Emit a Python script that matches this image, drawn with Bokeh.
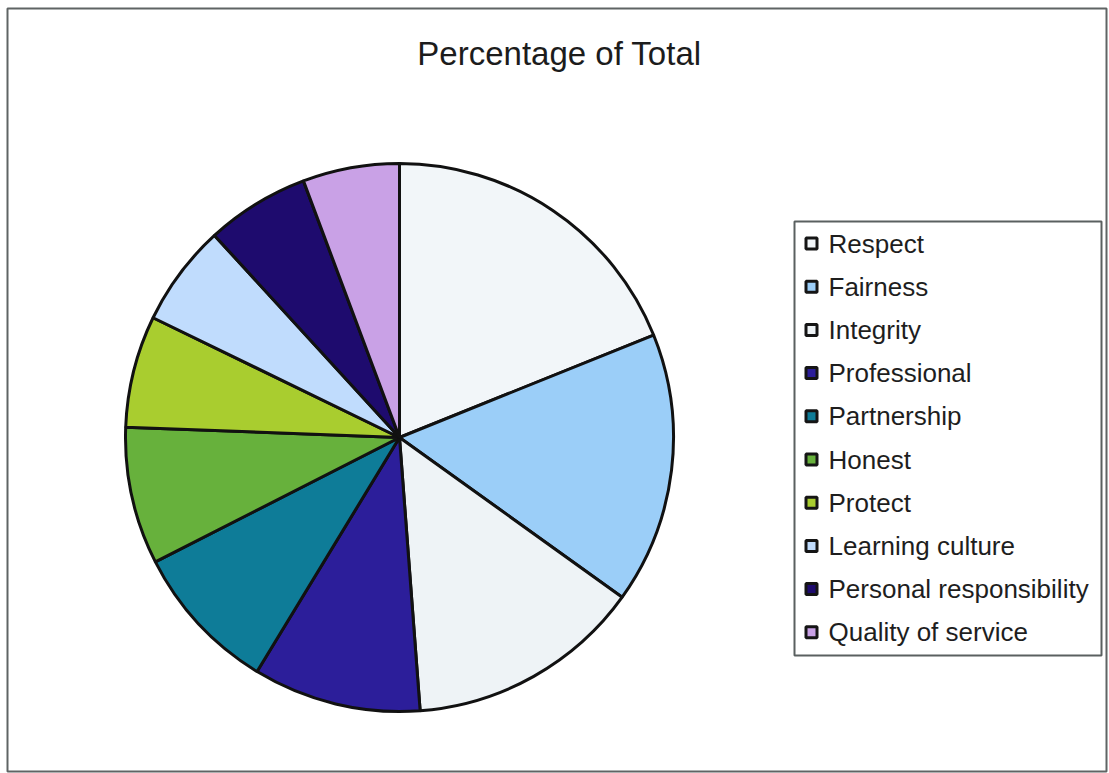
import math
from bokeh.plotting import figure
from bokeh.models import ColumnDataSource, Range1d
from bokeh.core.properties import value
from bokeh.embed import file_html
from bokeh.resources import INLINE

categories = ["Respect", "Fairness", "Integrity", "Professional", "Partnership",
              "Honest", "Protect", "Learning culture", "Personal responsibility",
              "Quality of service"]
percent = [18.9, 16.0, 13.9, 9.9, 8.8, 8.1, 6.6, 6.0, 6.1, 5.7]
colors = ["#F2F6F9", "#9BCEF8", "#EEF3F6", "#2C1E9A", "#0E7C98",
          "#67B13C", "#A9CD2F", "#C0DCFD", "#1E0B6E", "#C9A1E6"]
title_text = "Percentage of Total"

W, H = 1109, 773
p = figure(width=W, height=H, x_range=Range1d(0, W), y_range=Range1d(0, H),
           output_backend="svg", toolbar_location=None, min_border=0,
           x_axis_type=None, y_axis_type=None)
p.grid.visible = False
p.outline_line_color = None
p.background_fill_color = "white"
p.border_fill_color = "white"

# outer frame
p.quad(left=[7], right=[1106], top=[H - 8], bottom=[H - 771],
       fill_color=None, line_color="#5f6464", line_width=2)

# pie
total = sum(percent)
starts, ends = [], []
cum = 0.0
for v in percent:
    starts.append(math.pi / 2 - cum / total * 2 * math.pi)
    cum += v
    ends.append(math.pi / 2 - cum / total * 2 * math.pi)
src = ColumnDataSource(dict(start=starts, end=ends, color=colors, cat=categories))
cx, cy, r = 399, H - 437, 274
p.wedge(x=cx, y=cy, radius=r, start_angle="start", end_angle="end",
        direction="clock", fill_color="color", line_color="#111111",
        line_width=3, source=src)

# title
p.text(x=[559], y=[H - 53], text=[title_text], text_font=value("Liberation Sans"),
       text_font_size="33px", text_align="center", text_baseline="middle",
       text_color="#1c1c1c")

# legend
p.quad(left=[794], right=[1101], top=[H - 221], bottom=[H - 655],
       fill_color="white", line_color="#5a6060", line_width=2)
row0, step = 243, 43.2
ys = [H - (row0 + i * step) for i in range(len(categories))]
lsrc = ColumnDataSource(dict(y=ys, color=colors, cat=categories))
p.rect(x=811, y="y", width=11, height=11, fill_color="color",
       line_color="#151515", line_width=3, source=lsrc)
p.text(x=828, y="y", text="cat", text_font=value("Liberation Sans"),
       text_font_size="26px", text_align="left", text_baseline="middle",
       text_color="#1e1e1e", source=lsrc)

open("out.html", "w").write(file_html(p, INLINE))
